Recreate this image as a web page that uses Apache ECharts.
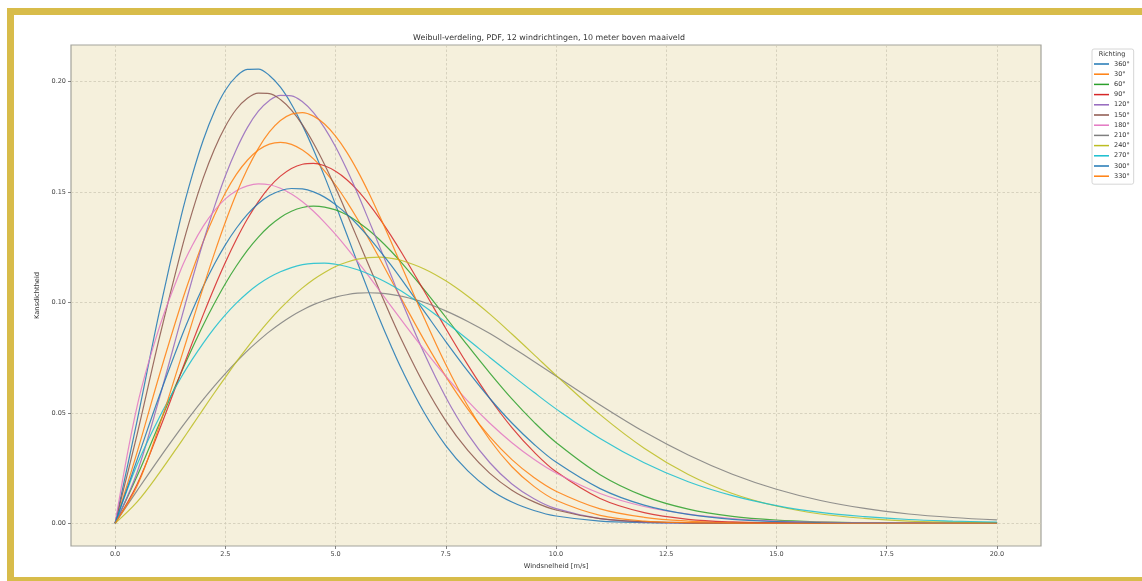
<!DOCTYPE html>
<html>
<head>
<meta charset="utf-8">
<script src="https://cdn.jsdelivr.net/npm/echarts@6/dist/echarts.min.js"></script>
<style>
  html, body { margin: 0; padding: 0; background: #fff; }
  body { width: 1142px; height: 581px; overflow: hidden; position: relative; }
  .frame {
    position: absolute; left: 7px; top: 8px;
    width: 1160px; height: 562px;
    border: 7px solid #d8bc4a;
  }
  #chart { position: absolute; left: 0; top: 0; width: 1142px; height: 581px; }
</style>
</head>
<body>
<div class="frame"></div>
<div id="chart"></div>
<script>
// windsnelheid (m/s)
const speed = [0, 0.5, 1, 1.5,
  1.75, 2, 2.25, 2.5, 2.75, 3, 3.25, 3.5, 3.75, 4, 4.25, 4.5, 4.75, 5, 5.25, 5.5, 5.75, 6, 6.25,
  6.5, 7, 7.5, 8, 8.5, 9, 9.5, 10,
  11, 12, 13, 14, 15, 16, 17, 18, 19, 20]

// kansdichtheid per richting
const pdf360 = [0, 0.0465, 0.0954, 0.1392,
  0.1577, 0.1736, 0.1864, 0.1961, 0.2024, 0.2056, 0.2057, 0.2028, 0.1975, 0.1898, 0.1802, 0.1692, 0.1571, 0.1443, 0.1311, 0.1179, 0.1049, 0.0924, 0.0807,
  0.0697, 0.0505, 0.0352, 0.0237, 0.0153, 0.0096, 0.0058, 0.0033,
  0.0010, 0.0003, 0.0001, 0, 0, 0, 0, 0, 0, 0]
const pdf30 = [0, 0.0322, 0.0668, 0.0994,
  0.1141, 0.1276, 0.1394, 0.1496, 0.1580, 0.1644, 0.1690, 0.1717, 0.1725, 0.1716, 0.1690, 0.1650, 0.1596, 0.1532, 0.1458, 0.1377, 0.1289, 0.1199, 0.1106,
  0.1014, 0.0833, 0.0665, 0.0517, 0.0391, 0.0288, 0.0207, 0.0145,
  0.0065, 0.0027, 0.0010, 0.0003, 0.0001, 0, 0, 0, 0, 0]
const pdf60 = [0, 0.0214, 0.0450, 0.0683,
  0.0793, 0.0898, 0.0995, 0.1085, 0.1165, 0.1236, 0.1296, 0.1346, 0.1385, 0.1413, 0.1430, 0.1436, 0.1432, 0.1419, 0.1397, 0.1366, 0.1328, 0.1284, 0.1234,
  0.1179, 0.1060, 0.0933, 0.0804, 0.0680, 0.0563, 0.0458, 0.0366,
  0.0220, 0.0123, 0.0064, 0.0031, 0.0014, 0.0006, 0.0002, 0.0001, 0, 0]
const pdf90 = [0, 0.0177, 0.0421, 0.0685,
  0.0817, 0.0945, 0.1067, 0.1181, 0.1285, 0.1378, 0.1457, 0.1522, 0.1572, 0.1607, 0.1626, 0.1630, 0.1619, 0.1594, 0.1557, 0.1508, 0.1448, 0.1380, 0.1305,
  0.1225, 0.1055, 0.0882, 0.0717, 0.0565, 0.0433, 0.0323, 0.0234,
  0.0112, 0.0048, 0.0018, 0.0006, 0.0002, 0.0001, 0, 0, 0, 0]
const pdf120 = [0, 0.0231, 0.0564, 0.0926,
  0.1105, 0.1275, 0.1432, 0.1573, 0.1693, 0.1792, 0.1866, 0.1915, 0.1938, 0.1936, 0.1909, 0.1860, 0.1791, 0.1705, 0.1604, 0.1493, 0.1374, 0.1252, 0.1128,
  0.1005, 0.0774, 0.0571, 0.0404, 0.0274, 0.0178, 0.0111, 0.0066,
  0.0021, 0.0005, 0.0001, 0, 0, 0, 0, 0, 0, 0]
const pdf150 = [0, 0.0403, 0.0836, 0.1235,
  0.1410, 0.1564, 0.1693, 0.1797, 0.1875, 0.1925, 0.1948, 0.1946, 0.1919, 0.1871, 0.1804, 0.1721, 0.1625, 0.1519, 0.1405, 0.1288, 0.1170, 0.1053, 0.0939,
  0.0830, 0.0632, 0.0464, 0.0330, 0.0226, 0.0150, 0.0097, 0.0060,
  0.0021, 0.0007, 0.0002, 0, 0, 0, 0, 0, 0, 0]
const pdf180 = [0, 0.0531, 0.0885, 0.1153,
  0.1258, 0.1346, 0.1415, 0.1469, 0.1506, 0.1528, 0.1537, 0.1533, 0.1517, 0.1491, 0.1456, 0.1413, 0.1363, 0.1308, 0.1248, 0.1185, 0.1120, 0.1053, 0.0986,
  0.0919, 0.0789, 0.0666, 0.0553, 0.0453, 0.0365, 0.0290, 0.0228,
  0.0135, 0.0076, 0.0041, 0.0021, 0.0010, 0.0005, 0.0002, 0.0001, 0, 0]
const pdf210 = [0, 0.0148, 0.0293, 0.0432,
  0.0498, 0.0561, 0.0621, 0.0678, 0.0731, 0.0781, 0.0826, 0.0868, 0.0905, 0.0938, 0.0966, 0.0990, 0.1009, 0.1024, 0.1035, 0.1042, 0.1044, 0.1042, 0.1037,
  0.1028, 0.1001, 0.0962, 0.0914, 0.0859, 0.0797, 0.0733, 0.0667,
  0.0536, 0.0414, 0.0309, 0.0222, 0.0154, 0.0103, 0.0067, 0.0042, 0.0026, 0.0015]
const pdf240 = [0, 0.0097, 0.0227, 0.0370,
  0.0443, 0.0517, 0.0590, 0.0661, 0.0731, 0.0797, 0.0860, 0.0919, 0.0973, 0.1022, 0.1066, 0.1104, 0.1136, 0.1163, 0.1182, 0.1196, 0.1203, 0.1205, 0.1200,
  0.1190, 0.1153, 0.1098, 0.1028, 0.0947, 0.0857, 0.0764, 0.0670,
  0.0492, 0.0340, 0.0221, 0.0135, 0.0078, 0.0042, 0.0022, 0.0010, 0.0005, 0.0002]
const pdf270 = [0, 0.0266, 0.0478, 0.0661,
  0.0742, 0.0816, 0.0884, 0.0944, 0.0997, 0.1043, 0.1082, 0.1114, 0.1139, 0.1158, 0.1171, 0.1177, 0.1178, 0.1173, 0.1163, 0.1148, 0.1129, 0.1106, 0.1080,
  0.1051, 0.0984, 0.0910, 0.0832, 0.0751, 0.0671, 0.0593, 0.0518,
  0.0384, 0.0274, 0.0188, 0.0125, 0.0080, 0.0049, 0.0030, 0.0017, 0.0010, 0.0005]
const pdf300 = [0, 0.0288, 0.0575, 0.0841,
  0.0962, 0.1073, 0.1173, 0.1261, 0.1336, 0.1399, 0.1448, 0.1484, 0.1506, 0.1516, 0.1514, 0.1501, 0.1477, 0.1443, 0.1401, 0.1352, 0.1296, 0.1235, 0.1171,
  0.1103, 0.0963, 0.0823, 0.0689, 0.0565, 0.0454, 0.0358, 0.0277,
  0.0157, 0.0082, 0.0040, 0.0018, 0.0008, 0.0003, 0.0001, 0, 0, 0]
const pdf330 = [0, 0.0169, 0.0439, 0.0751,
  0.0911, 0.1069, 0.1221, 0.1363, 0.1492, 0.1604, 0.1698, 0.1772, 0.1824, 0.1853, 0.1860, 0.1844, 0.1808, 0.1753, 0.1682, 0.1596, 0.1498, 0.1391, 0.1279,
  0.1164, 0.0934, 0.0719, 0.0531, 0.0377, 0.0256, 0.0167, 0.0104,
  0.0036, 0.0010, 0.0003, 0.0001, 0, 0, 0, 0, 0, 0]

const directions = ['360°', '30°', '60°', '90°', '120°', '150°', '180°', '210°', '240°', '270°', '300°', '330°']
const pdfs = [pdf360, pdf30, pdf60, pdf90, pdf120, pdf150, pdf180, pdf210, pdf240, pdf270, pdf300, pdf330]
const colors = ['#1f77b4', '#ff7f0e', '#2ca02c', '#d62728', '#9467bd', '#8c564b',
  '#e377c2', '#7f7f7f', '#bcbd22', '#17becf', '#1f77b4', '#ff7f0e']

const xTicks = [0, 2.5, 5, 7.5, 10, 12.5, 15, 17.5, 20]
const yTicks = [0, 0.05, 0.1, 0.15, 0.2]

const font = 'DejaVu Sans'
const chart = echarts.init(document.getElementById('chart'))

const series = directions.map((name, i) => ({
  name,
  type: 'line',
  data: speed.map((x, j) => [x, pdfs[i][j]]),
  showSymbol: false,
  symbol: 'none',
  smooth: 0.35,
  color: colors[i],
  lineStyle: { width: 1.2, opacity: 0.85 },
  emphasis: { disabled: true },
  z: 2 + i
}))

const gridLine = { show: true, lineStyle: { color: '#cfcab6', width: 0.8, type: [2.5, 2] } }

chart.setOption({
  animation: false,
  textStyle: { fontFamily: font },
  grid: {
    left: 71, top: 45, width: 970, height: 501,
    show: true,
    backgroundColor: '#f5f0dc',
    borderColor: '#a3a39b',
    borderWidth: 1.2
  },
  xAxis: {
    type: 'value',
    min: -1,
    max: 21,
    name: 'Windsnelheid [m/s]',
    nameLocation: 'middle',
    nameGap: 12,
    nameTextStyle: { fontSize: 6.7, color: '#333' },
    axisLine: { show: false, onZero: false },
    axisTick: { show: true, length: 3, lineStyle: { color: '#666', width: 0.8 }, customValues: xTicks },
    axisLabel: { fontSize: 6.5, color: '#444', margin: 5, customValues: xTicks, formatter: v => v.toFixed(1) },
    splitLine: gridLine
  },
  yAxis: {
    type: 'value',
    min: -0.0103,
    max: 0.2166,
    name: 'Kansdichtheid',
    nameLocation: 'middle',
    nameGap: 23,
    nameTextStyle: { fontSize: 6.7, color: '#333' },
    axisLine: { show: false, onZero: false },
    axisTick: { show: true, length: 3, lineStyle: { color: '#666', width: 0.8 }, customValues: yTicks },
    axisLabel: { fontSize: 6.5, color: '#444', margin: 5, customValues: yTicks, formatter: v => v.toFixed(2) },
    splitLine: gridLine
  },
  legend: {
    data: directions,
    orient: 'vertical',
    left: 1092,
    top: 49,
    icon: 'rect',
    itemWidth: 15,
    itemHeight: 1.5,
    itemGap: 2.2,
    padding: [11, 4, 4, 2],
    backgroundColor: 'rgba(255,255,255,0.85)',
    borderColor: '#cccccc',
    borderWidth: 0.8,
    borderRadius: 2,
    selectedMode: false,
    textStyle: { fontSize: 6.5, color: '#333', lineHeight: 8 }
  },
  graphic: [
    {
      type: 'text', x: 549, y: 38, z: 100,
      style: {
        text: 'Weibull-verdeling, PDF, 12 windrichtingen, 10 meter boven maaiveld',
        font: '7.9px ' + font, fill: '#333', align: 'center', verticalAlign: 'middle'
      }
    },
    {
      type: 'text', x: 1112, y: 54, z: 100,
      style: {
        text: 'Richting', font: '6.5px ' + font, fill: '#333', align: 'center', verticalAlign: 'middle'
      }
    }
  ],
  series
})
</script>
</body>
</html>
